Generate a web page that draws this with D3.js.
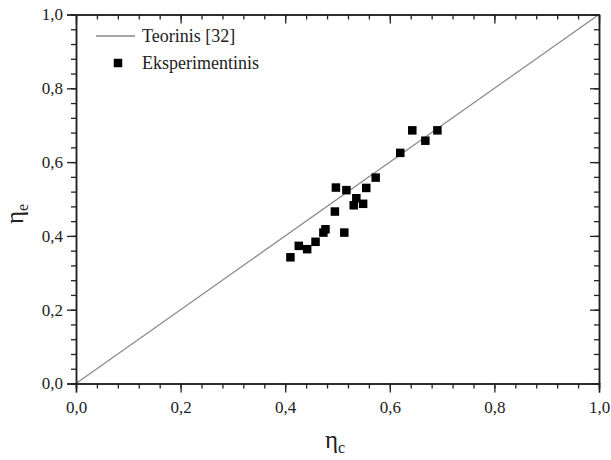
<!DOCTYPE html>
<html>
<head>
<meta charset="utf-8">
<style>
  body { margin: 0; background: #fff; }
</style>
</head>
<body>
<svg id="chart" width="611" height="460"></svg>
<script src="https://d3js.org/d3.v7.min.js"></script>
<script>
  // data
  var etaC = [0.410, 0.426, 0.442, 0.458, 0.473, 0.477, 0.495, 0.497, 0.513, 0.517,
              0.531, 0.536, 0.549, 0.555, 0.573, 0.620, 0.643, 0.668, 0.691]
  var etaE = [0.342, 0.373, 0.364, 0.384, 0.409, 0.418, 0.466, 0.531, 0.409, 0.524,
              0.483, 0.502, 0.487, 0.530, 0.558, 0.625, 0.686, 0.658, 0.686]
  var theoryLine = [0, 1]
  var majorTicks = [0, 0.2, 0.4, 0.6, 0.8, 1.0]
  var minorTicks = d3.range(0, 1.0001, 0.04)
  var legendLabels = ["Teorinis [32]", "Eksperimentinis"]

  var serif = "'Liberation Serif', 'Times New Roman', Times, 'DejaVu Serif', serif"

  var margin = {top: 14.5, right: 12, bottom: 76.5, left: 76}
  var svg = d3.select("#chart")
  var width = svg.attr("width") - margin.left - margin.right
  var height = svg.attr("height") - margin.top - margin.bottom
  var g = svg.append("g").attr("transform", "translate(" + margin.left + "," + margin.top + ")")

  var x = d3.scaleLinear().domain([0, 1]).range([0, width])
  var y = d3.scaleLinear().domain([0, 1]).range([height, 0])
  var fmt = function(d) { return d3.format(".1f")(d).replace(".", ",") }

  // theory line y = x
  g.append("line")
    .attr("x1", x(theoryLine[0])).attr("y1", y(theoryLine[0]))
    .attr("x2", x(theoryLine[1])).attr("y2", y(theoryLine[1]))
    .attr("stroke", "#8a8a8a").attr("stroke-width", 1.3)

  // experimental points
  var pts = etaC.map(function(d, i) { return {c: d, e: etaE[i]} })
  var s = 8.5
  g.selectAll(".pt").data(pts).enter().append("rect")
    .attr("class", "pt")
    .attr("x", function(d) { return x(d.c) - s / 2 })
    .attr("y", function(d) { return y(d.e) - s / 2 })
    .attr("width", s).attr("height", s)
    .attr("fill", "#000")

  function styleAxis(sel) {
    sel.attr("font-family", serif)
    sel.selectAll("path").attr("stroke", "#222").attr("stroke-width", 1.5)
    sel.selectAll("line").attr("stroke", "#222").attr("stroke-width", 1.3)
    sel.selectAll("text")
      .style("font-family", serif).style("font-size", "17px").attr("fill", "#222")
  }

  // minor ticks
  g.append("g").attr("transform", "translate(0," + height + ")")
    .call(d3.axisBottom(x).tickValues(minorTicks).tickSize(5).tickFormat(""))
    .call(styleAxis)
  g.append("g")
    .call(d3.axisLeft(y).tickValues(minorTicks).tickSize(5).tickFormat(""))
    .call(styleAxis)
  g.append("g")
    .call(d3.axisTop(x).tickValues(minorTicks).tickSizeInner(-5).tickSizeOuter(0).tickFormat(""))
    .call(styleAxis)
  g.append("g").attr("transform", "translate(" + width + ",0)")
    .call(d3.axisRight(y).tickValues(minorTicks).tickSizeInner(-5).tickSizeOuter(0).tickFormat(""))
    .call(styleAxis)

  // major ticks with labels
  g.append("g").attr("transform", "translate(0," + height + ")")
    .call(d3.axisBottom(x).tickValues(majorTicks).tickSize(9).tickPadding(8).tickFormat(fmt))
    .call(styleAxis)
  g.append("g")
    .call(d3.axisLeft(y).tickValues(majorTicks).tickSize(9).tickPadding(4).tickFormat(fmt))
    .call(styleAxis)
  g.append("g")
    .call(d3.axisTop(x).tickValues(majorTicks).tickSizeInner(-9).tickSizeOuter(0).tickFormat(""))
    .call(styleAxis)
  g.append("g").attr("transform", "translate(" + width + ",0)")
    .call(d3.axisRight(y).tickValues(majorTicks).tickSizeInner(-9).tickSizeOuter(0).tickFormat(""))
    .call(styleAxis)

  // axis titles
  var xt = svg.append("text")
    .attr("x", 335).attr("y", 448)
    .attr("text-anchor", "middle")
    .style("font-family", serif).style("font-size", "25px").attr("fill", "#222")
  xt.append("tspan").text("η")
  xt.append("tspan").attr("dy", 5).style("font-size", "16px").text("c")

  var yt = svg.append("text")
    .attr("transform", "translate(23,214) rotate(-90)")
    .attr("text-anchor", "middle")
    .style("font-family", serif).style("font-size", "25px").attr("fill", "#222")
  yt.append("tspan").text("η")
  yt.append("tspan").attr("dy", 5).style("font-size", "16px").text("e")

  // legend
  var leg = svg.append("g")
  leg.append("line")
    .attr("x1", 96).attr("x2", 135).attr("y1", 36).attr("y2", 36)
    .attr("stroke", "#8a8a8a").attr("stroke-width", 1.3)
  leg.append("rect")
    .attr("x", 118 - s / 2).attr("y", 63 - s / 2).attr("width", s).attr("height", s)
    .attr("fill", "#000")
  leg.selectAll(".lt").data(legendLabels).enter().append("text")
    .attr("class", "lt")
    .attr("x", 142)
    .attr("y", function(d, i) { return 36 + i * 27 })
    .attr("dy", "0.35em")
    .style("font-family", serif).style("font-size", "18px").attr("fill", "#222")
    .text(function(d) { return d })
</script>
</body>
</html>
